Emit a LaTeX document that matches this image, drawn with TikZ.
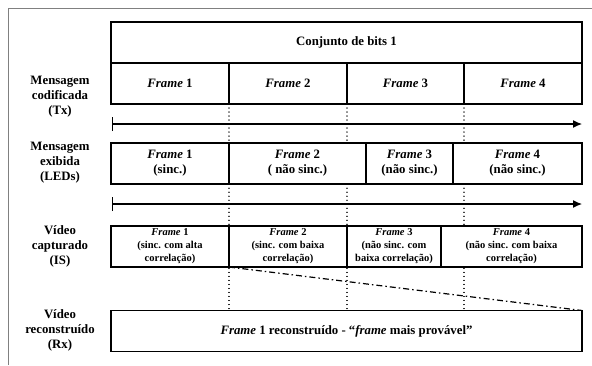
\documentclass[tikz,border=0pt]{standalone}
\usepackage{fontspec}
\setmainfont{Liberation Serif}
\usetikzlibrary{arrows.meta,backgrounds}
\tikzset{
  cell/.style={draw, line width=1.2pt, fill=white, inner sep=0pt, outer sep=0pt, align=center, font=\bfseries\fontsize{12.8}{15}\selectfont},
  smallcell/.style={cell, font=\bfseries\fontsize{10.5}{13}\selectfont},
  rowlabel/.style={align=center, font=\bfseries\fontsize{12.8}{15}\selectfont},
  timeline/.style={line width=1.2pt, {Bar[width=14pt,line width=1.2pt]}-{Latex[length=9pt,width=8pt]}},
  guide/.style={line width=1.3pt, line cap=round, dash pattern=on 0.01pt off 4pt},
  trend/.style={line width=1.2pt, dash pattern=on 6pt off 3pt on 1.5pt off 3pt},
  frameline/.style={gray, line width=0.8pt}
}
\begin{document}
\begin{tikzpicture}[x=1pt,y=-1pt]
\useasboundingbox (0,0) rectangle (592,365);
\coordinate (fa) at (8,365);
\coordinate (fb) at (8,8);
\coordinate (fc) at (592,8);
\draw[frameline] (fa) -- (fb) -- (fc);

% Conjunto
\node[cell, minimum width=471pt, minimum height=41pt] (conj) at (346.5,42.5) {Conjunto de bits 1};
% Tx row
\node[cell, minimum width=118pt, minimum height=41pt] (tx1) at (170,83.5) {\textit{Frame} 1};
\node[cell, minimum width=118pt, minimum height=41pt] (tx2) at (288,83.5) {\textit{Frame} 2};
\node[cell, minimum width=117pt, minimum height=41pt] (tx3) at (405.5,83.5) {\textit{Frame} 3};
\node[cell, minimum width=118pt, minimum height=41pt] (tx4) at (523,83.5) {\textit{Frame} 4};
% LED row
\node[cell, minimum width=118pt, minimum height=41pt] (led1) at (170,163.5) {\textit{Frame} 1\\(sinc.)};
\node[cell, minimum width=137pt, minimum height=41pt] (led2) at (297.5,163.5) {\textit{Frame} 2\\( não sinc.)};
\node[cell, minimum width=87pt, minimum height=41pt] (led3) at (409.5,163.5) {\textit{Frame} 3\\(não sinc.)};
\node[cell, minimum width=129pt, minimum height=41pt] (led4) at (517.5,163.5) {\textit{Frame} 4\\(não sinc.)};
% IS row
\node[smallcell, minimum width=118pt, minimum height=41pt] (is1) at (170,246.5) {\textit{Frame} 1\\(sinc. com alta\\correlação)};
\node[smallcell, minimum width=118pt, minimum height=41pt] (is2) at (288,246.5) {\textit{Frame} 2\\(sinc. com baixa\\correlação)};
\node[smallcell, minimum width=94pt, minimum height=41pt] (is3) at (394,246.5) {\textit{Frame} 3\\(não sinc. com\\baixa correlação)};
\node[smallcell, minimum width=141pt, minimum height=41pt] (is4) at (511.5,246.5) {\textit{Frame} 4\\(não sinc. com baixa\\correlação)};
% Rx
\node[cell, minimum width=471pt, minimum height=41pt] (rx) at (346.5,331) {\textit{Frame} 1 reconstruído - “\textit{frame} mais provável”};

% row labels
\node[rowlabel] (lTx) at (60,97) {Mensagem\\codificada\\(Tx)};
\node[rowlabel] (lLED) at (60,163) {Mensagem\\exibida\\(LEDs)};
\node[rowlabel] (lIS) at (60,246) {Vídeo\\capturado\\(IS)};
\node[rowlabel] (lRx) at (60,330) {Vídeo\\reconstruído\\(Rx)};

% timelines
\coordinate (t1s) at (112,124);
\coordinate (t1e) at (582,124);
\coordinate (t2s) at (112,204);
\coordinate (t2e) at (582,204);
\draw[timeline] (t1s) -- (t1e);
\draw[timeline] (t2s) -- (t2e);

% dotted guides
\begin{scope}[on background layer]
\draw[guide] (tx1.south east) -- (tx1.south east |- rx.north);
\draw[guide] (tx2.south east) -- (tx2.south east |- rx.north);
\draw[guide] (tx3.south east) -- (tx3.south east |- rx.north);
\end{scope}

% dash-dot trend
\draw[trend] (is1.south east) -- (rx.north east);
\end{tikzpicture}
\end{document}
